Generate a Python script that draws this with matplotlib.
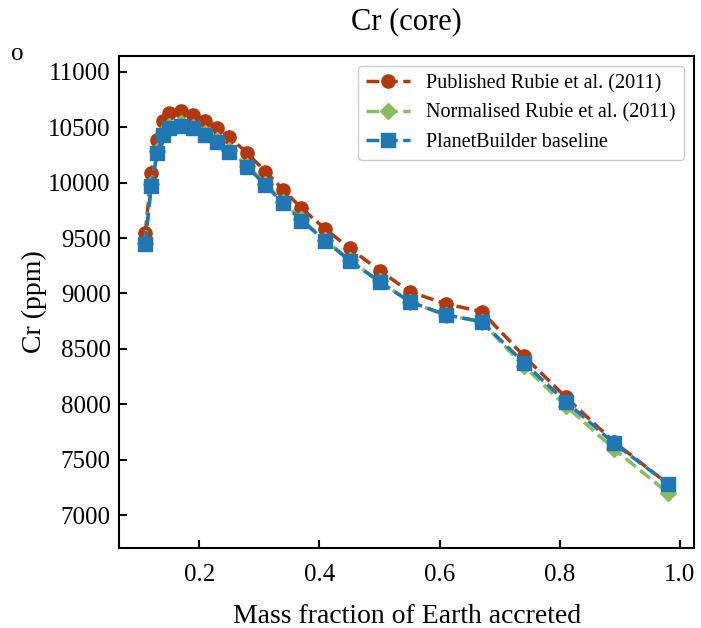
import matplotlib
matplotlib.use("Agg")
import matplotlib.pyplot as plt

plt.rcParams['font.family'] = ['Liberation Serif', 'DejaVu Serif']

# mass fraction of Earth accreted
mass_frac = [0.11, 0.12, 0.13, 0.14, 0.15, 0.17, 0.19, 0.21, 0.23, 0.25, 0.28, 0.31,
             0.34, 0.37, 0.41, 0.45, 0.50, 0.55, 0.61, 0.67, 0.74, 0.81, 0.89, 0.98]

# Cr in core (ppm)
published = [9544, 10091, 10386, 10560, 10627, 10651, 10612, 10560, 10497, 10411, 10266, 10100,
             9935, 9770, 9580, 9409, 9207, 9017, 8906, 8837, 8437, 8064, 7662, 7282]
normalised = [9455, 9985, 10285, 10450, 10515, 10535, 10505, 10450, 10385, 10295, 10150, 9990,
              9825, 9668, 9482, 9303, 9110, 8925, 8805, 8745, 8345, 7985, 7598, 7200]
baseline = [9448, 9974, 10266, 10431, 10497, 10515, 10492, 10431, 10371, 10281, 10140, 9980,
            9815, 9658, 9475, 9297, 9107, 8927, 8807, 8746, 8376, 8024, 7649, 7282]

labels = ['Published Rubie et al. (2011)', 'Normalised Rubie et al. (2011)', 'PlanetBuilder baseline']

fig = plt.figure(figsize=(7.01, 6.28), dpi=100)
ax = fig.add_axes([0.170, 0.127, 0.820, 0.784])

ax.plot(mass_frac, published, '--o', color='#B3380B', lw=2.5, ms=9.5, label=labels[0])
ax.plot(mass_frac, normalised, '--D', color='#88BD5E', lw=2.5, ms=8.5, label=labels[1])
ax.plot(mass_frac, baseline, '--s', color='#1F77B4', lw=2.5, ms=9.5, label=labels[2])

ax.set_ylim(6700, 11145)
ax.set_xticks([0.2, 0.4, 0.6, 0.8, 1.0])
ax.set_yticks(range(7000, 11001, 500))
ax.tick_params(direction='in', length=6, width=1.5, labelsize=18, pad=6)
ax.tick_params(axis='x', pad=11)
for s in ax.spines.values():
    s.set_linewidth(1.5)

ax.set_xlabel('Mass fraction of Earth accreted', fontsize=20, labelpad=13)
ax.set_ylabel('Cr (ppm)', fontsize=20, labelpad=1)
ax.set_title('Cr (core)', fontsize=22, pad=19)
fig.text(0.015, 0.905, 'o', fontsize=18)

ax.legend(loc='upper right', fontsize=14.5, framealpha=1, handlelength=2.2)

fig.savefig('out.png', dpi=100)
